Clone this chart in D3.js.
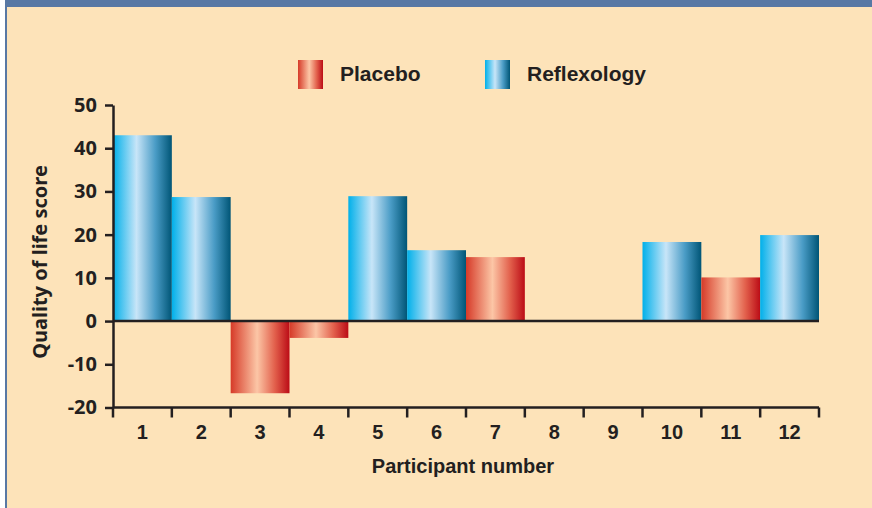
<!DOCTYPE html>
<html lang="en">

<head>
    <meta charset="UTF-8">
    <title>Quality of life score</title>
    <style>
    body {
        margin: 0;
        background: #fff;
    }

    .axis text {
        fill: #231f20;
    }
    </style>
</head>

<body>
    <svg width="872" height="508"></svg>
    <script src="https://cdnjs.cloudflare.com/ajax/libs/d3/7.8.5/d3.min.js"></script>
</body>
<script>
// participant number on x, one bar per participant
var participants = ["1", "2", "3", "4", "5", "6", "7", "8", "9", "10", "11", "12"];
var scores = [43, 28.7, -16.7, -3.9, 28.9, 16.4, 14.8, 0, 0, 18.3, 10.1, 19.9];
var groups = ["Reflexology", "Reflexology", "Placebo", "Placebo", "Reflexology", "Reflexology",
    "Placebo", "Placebo", "Placebo", "Reflexology", "Placebo", "Reflexology"];
var yTicks = [-20, -10, 0, 10, 20, 30, 40, 50];
var legendItems = ["Placebo", "Reflexology"];

var svg = d3.select("svg"),
    ink = "#231f20",
    humanist = "'Noto Sans', 'Open Sans', sans-serif";

// frame: blue strip on top and left
svg.append("rect").attr("x", 5).attr("y", 0).attr("width", 867).attr("height", 508).attr("fill", "#5878a4");
svg.append("rect").attr("x", 7).attr("y", 7).attr("width", 865).attr("height", 501).attr("fill", "#fde3b9");

// gradients
var defs = svg.append("defs");
function gradient(id, stops) {
    var g = defs.append("linearGradient").attr("id", id)
        .attr("x1", "0%").attr("x2", "100%").attr("y1", "0%").attr("y2", "0%");
    stops.forEach(function(s) {
        g.append("stop").attr("offset", s[0]).attr("stop-color", s[1]);
    });
}
gradient("Reflexology", [[0, "#00b0ea"], [0.4, "#c8e5f8"], [0.72, "#4a9cc6"], [1, "#005576"]]);
gradient("Placebo", [[0, "#d63a28"], [0.45, "#fcc6a6"], [0.75, "#e2604c"], [1, "#bb0c16"]]);

var x = d3.scaleBand().domain(participants).range([113, 819]).padding(0),
    y = d3.scaleLinear().domain([-20, 50]).range([407.5, 105]);

// bars
svg.append("g").selectAll("rect")
    .data(scores)
    .enter().append("rect")
    .attr("x", function(d, i) { return x(participants[i]); })
    .attr("width", x.bandwidth())
    .attr("y", function(d) { return y(Math.max(0, d)); })
    .attr("height", function(d) { return Math.abs(y(d) - y(0)); })
    .attr("fill", function(d, i) { return "url(#" + groups[i] + ")"; });

// zero line
svg.append("line")
    .attr("x1", 113).attr("x2", 819)
    .attr("y1", y(0)).attr("y2", y(0))
    .attr("stroke", ink).attr("stroke-width", 2.5);

// y axis (plain hyphen for negatives, like the original)
var yAxis = svg.append("g").attr("class", "axis")
    .attr("transform", "translate(113,0)")
    .call(d3.axisLeft(y).tickValues(yTicks).tickSize(8).tickSizeOuter(0).tickPadding(8)
        .tickFormat(function(d) { return String(d); }));
yAxis.selectAll("line, path").attr("stroke", ink).attr("stroke-width", 2.5);
yAxis.selectAll("text")
    .attr("font-family", humanist)
    .attr("font-weight", "bold")
    .attr("font-size", 20);

// x axis: ticks sit on band edges
var edges = participants.map(function(p) { return x(p); }).concat([819]);
var xAxis = svg.append("g").attr("class", "axis");
xAxis.append("line")
    .attr("x1", 113).attr("x2", 819)
    .attr("y1", y(-20)).attr("y2", y(-20))
    .attr("stroke", ink).attr("stroke-width", 2.5);
xAxis.selectAll(".tick")
    .data(edges)
    .enter().append("line")
    .attr("x1", function(d) { return d; }).attr("x2", function(d) { return d; })
    .attr("y1", y(-20)).attr("y2", y(-20) + 10)
    .attr("stroke", ink).attr("stroke-width", 2.5);
xAxis.selectAll("text")
    .data(participants)
    .enter().append("text")
    .attr("x", function(d) { return x(d) + x.bandwidth() / 2; })
    .attr("y", 439)
    .attr("text-anchor", "middle")
    .attr("font-family", "'Liberation Sans', Arial, sans-serif")
    .attr("font-weight", "bold")
    .attr("font-size", 20)
    .text(function(d) { return d; });

// axis titles
svg.append("text")
    .attr("x", 463).attr("y", 473)
    .attr("text-anchor", "middle")
    .attr("fill", ink)
    .attr("font-family", "'Liberation Sans', Arial, sans-serif")
    .attr("font-weight", "bold")
    .attr("font-size", 20)
    .text("Participant number");

svg.append("text")
    .attr("transform", "translate(47,262) rotate(-90)")
    .attr("text-anchor", "middle")
    .attr("fill", ink)
    .attr("font-family", humanist)
    .attr("font-weight", "bold")
    .attr("font-size", 20)
    .text("Quality of life score");

// legend
var legendX = d3.scaleOrdinal().domain(legendItems).range([298, 485]);
var legend = svg.append("g").selectAll("g")
    .data(legendItems)
    .enter().append("g")
    .attr("transform", function(d) { return "translate(" + legendX(d) + ",60)"; });
legend.append("rect")
    .attr("width", 25).attr("height", 29)
    .attr("fill", function(d) { return "url(#" + d + ")"; });
legend.append("text")
    .attr("x", 42).attr("y", 21)
    .attr("fill", ink)
    .attr("font-family", "'Liberation Sans', Arial, sans-serif")
    .attr("font-weight", "bold")
    .attr("font-size", 21)
    .text(function(d) { return d; });
</script>

</html>
